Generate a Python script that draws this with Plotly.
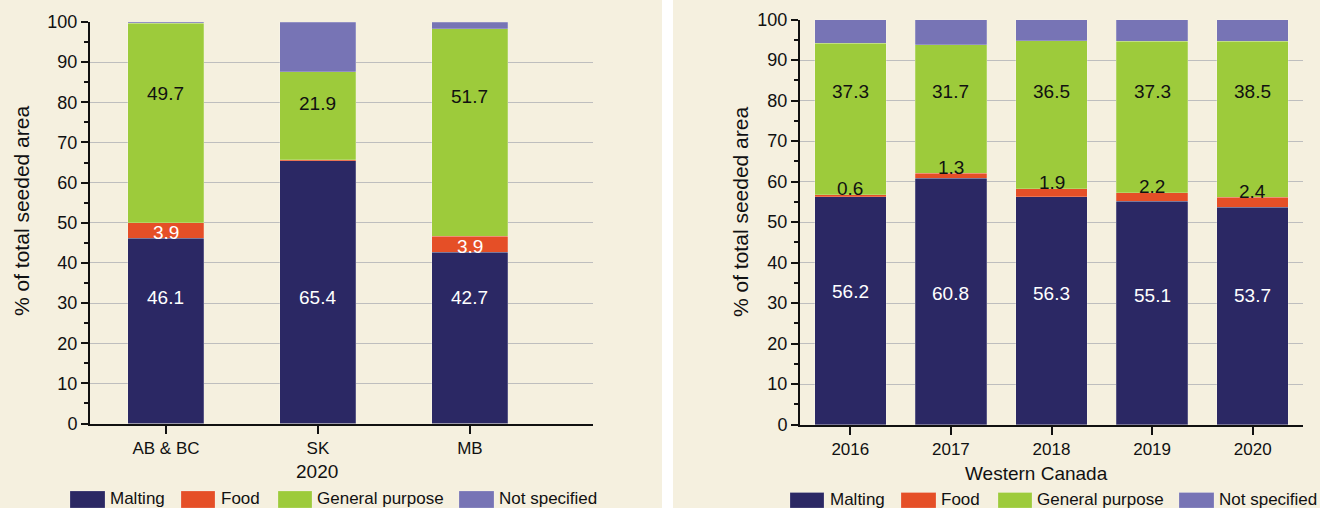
import plotly.graph_objects as go

W, H = 1320, 508

# ---------------- data ----------------
regions = ["AB & BC", "SK", "MB"]
reg_malting = [46.1, 65.4, 42.7]
reg_food = [3.9, 0.3, 3.9]
reg_general = [49.7, 21.9, 51.7]
reg_notspec = [0.3, 12.4, 1.7]
reg_food_text = ["3.9", "", "3.9"]

years = ["2016", "2017", "2018", "2019", "2020"]
wc_malting = [56.2, 60.8, 56.3, 55.1, 53.7]
wc_food = [0.6, 1.3, 1.9, 2.2, 2.4]
wc_general = [37.3, 31.7, 36.5, 37.3, 38.5]
wc_notspec = [5.9, 6.2, 5.3, 5.4, 5.4]

series = ["Malting", "Food", "General purpose", "Not specified"]
colors = ["#2B2864", "#E54F27", "#9DCB3B", "#7774B5"]

# ---------------- style ----------------
FONT = "Liberation Sans, Arial, sans-serif"
BG = "#F5F0DF"
AXC = "#111111"
GRID = "#BEBEBE"
LBL = 19

def px_x(p):
    return p / W

def px_y(p):
    return 1 - p / H

fig = go.Figure()

left_sets = [reg_malting, reg_food, reg_general, reg_notspec]
right_sets = [wc_malting, wc_food, wc_general, wc_notspec]
for name, col, vals in zip(series, colors, left_sets):
    fig.add_trace(go.Bar(x=regions, y=vals, name=name, marker_color=col,
                         marker_line_width=0.6, marker_line_color="rgba(255,255,255,0.35)",
                         width=0.5, xaxis="x", yaxis="y", showlegend=False))
for name, col, vals in zip(series, colors, right_sets):
    fig.add_trace(go.Bar(x=years, y=vals, name=name, marker_color=col,
                         marker_line_width=0.6, marker_line_color="rgba(255,255,255,0.35)",
                         width=0.71, xaxis="x2", yaxis="y2", showlegend=False))

def xax(domain, rng):
    return dict(domain=domain, range=rng, type="category", showline=True, linecolor=AXC,
                linewidth=2, ticks="outside", ticklen=8, tickwidth=2, tickcolor=AXC,
                tickfont=dict(size=17, color="#111", family=FONT), showgrid=False,
                zeroline=False, automargin=False, fixedrange=True)

def yax(domain):
    return dict(domain=domain, range=[0, 100], dtick=10, tick0=0, showline=True,
                linecolor=AXC, linewidth=2, ticks="outside", ticklen=7, tickwidth=1.5,
                tickcolor=AXC, tickfont=dict(size=18, color="#111", family=FONT),
                showgrid=True, gridcolor=GRID, gridwidth=1.2, zeroline=False,
                minor=dict(ticks="outside", ticklen=4, tickwidth=1.5, tickcolor=AXC,
                           dtick=5, showgrid=False),
                automargin=False, fixedrange=True)

fig.update_layout(
    width=W, height=H, template="none", barmode="stack",
    paper_bgcolor=BG, plot_bgcolor=BG,
    margin=dict(l=0, r=0, t=0, b=0),
    font=dict(family=FONT, color="#111"),
    xaxis=xax([px_x(90), px_x(593)], [-0.5, 2.81]) | dict(anchor="y"),
    yaxis=yax([px_y(423.5), px_y(22)]) | dict(anchor="x"),
    xaxis2=xax([px_x(800), px_x(1303)], [-0.5, 4.5]) | dict(anchor="y2"),
    yaxis2=yax([px_y(424.7), px_y(19.5)]) | dict(anchor="x2"),
    showlegend=False,
)

ann = []
# value labels, left panel (x given as category index)
GP_Y_LEFT = [82.3, 79.8, 81.5]
for i, r in enumerate(regions):
    ann.append(dict(x=i, y=31.5, xref="x", yref="y", text=f"{reg_malting[i]:.1f}",
                    showarrow=False, font=dict(size=LBL, color="white")))
    if reg_food_text[i]:
        ann.append(dict(x=i, y=reg_malting[i] + reg_food[i] / 2 - 0.5, xref="x", yref="y",
                        text=reg_food_text[i], showarrow=False,
                        font=dict(size=LBL, color="white")))
    ann.append(dict(x=i, y=GP_Y_LEFT[i], xref="x", yref="y", text=f"{reg_general[i]:.1f}",
                    showarrow=False, font=dict(size=LBL, color="#111")))
# value labels, right panel
MALT_Y_RIGHT = [32.9, 32.5, 32.3, 31.8, 31.8]
for i, yv in enumerate(years):
    ann.append(dict(x=i, y=MALT_Y_RIGHT[i], xref="x2", yref="y2", text=f"{wc_malting[i]:.1f}",
                    showarrow=False, font=dict(size=LBL, color="white")))
    ann.append(dict(x=i, y=wc_malting[i] + wc_food[i], yshift=6, yanchor="middle",
                    xref="x2", yref="y2", text=f"{wc_food[i]:.1f}",
                    showarrow=False, font=dict(size=LBL, color="#111")))
    ann.append(dict(x=i, y=82.3, xref="x2", yref="y2", text=f"{wc_general[i]:.1f}",
                    showarrow=False, font=dict(size=LBL, color="#111")))

# axis titles
def title(x, y, text, size, angle=0):
    return dict(x=px_x(x), y=px_y(y), xref="paper", yref="paper", text=text,
                textangle=angle, showarrow=False, xanchor="center", yanchor="middle",
                font=dict(size=size, color="#111"))

ann.append(title(22, 211, "% of total seeded area", 21, -90))
ann.append(title(741, 212, "% of total seeded area", 21, -90))
ann.append(title(317, 471.5, "2020", 19))
ann.append(title(1036, 473, "Western Canada", 19))

shapes = [dict(type="rect", xref="paper", yref="paper", x0=px_x(662), x1=px_x(673),
               y0=0, y1=1, fillcolor="white", line=dict(width=0), layer="below")]

# custom legends (wide swatches)
legend_left = [(70, 105, 109), (181, 215, 220), (278, 312, 316), (459, 494, 498)]
legend_right = [(790, 824, 829), (901, 936, 940), (998, 1032, 1036), (1179, 1214, 1218)]
for items, top, ty in [(legend_left, 491, 498.5), (legend_right, 492.5, 499.5)]:
    for (sx0, sx1, tx), name, col in zip(items, series, colors):
        shapes.append(dict(type="rect", xref="paper", yref="paper", x0=px_x(sx0),
                           x1=px_x(sx1), y0=0, y1=px_y(top), fillcolor=col,
                           line=dict(width=0.6, color="rgba(255,255,255,0.35)")))
        ann.append(dict(x=px_x(tx), y=px_y(ty), xref="paper", yref="paper", text=name,
                        xanchor="left", yanchor="middle", showarrow=False, borderpad=0,
                        font=dict(size=17, color="#111")))

fig.update_layout(annotations=ann, shapes=shapes)
fig.write_html("out.html", config={"displayModeBar": False},
               post_script="document.body.style.margin='0';document.body.style.overflow='hidden';")
